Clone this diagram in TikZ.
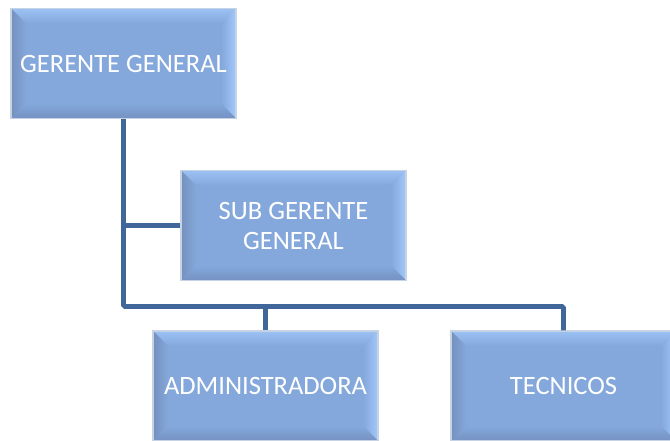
\documentclass[tikz,border=0pt]{standalone}
\usepackage{fontspec}
\setmainfont{Carlito}
\usetikzlibrary{calc}

\definecolor{boxface}{HTML}{84A8DB}
\definecolor{boxtop}{HTML}{9CC1F3}
\definecolor{boxleft}{HTML}{7590BD}
\definecolor{boxright}{HTML}{A2C7FA}
\definecolor{boxbottom}{HTML}{7591C2}
\definecolor{boxrim}{HTML}{C6D3E4}
\definecolor{linkblue}{HTML}{41679A}

\tikzset{
	orgbox/.style={
		rectangle, minimum width=225pt, minimum height=110pt, inner sep=0pt,
		fill=boxface, draw=boxrim, line width=1.2pt,
		text=white, align=center, font=\fontsize{26.5}{30}\selectfont,
		path picture={
			\coordinate (nw) at (path picture bounding box.north west);
			\coordinate (ne) at (path picture bounding box.north east);
			\coordinate (sw) at (path picture bounding box.south west);
			\coordinate (se) at (path picture bounding box.south east);
			\shade[top color=boxtop, bottom color=boxface]
				(nw) -- (ne) -- ($(ne)+(-15pt,-15pt)$) -- ($(nw)+(15pt,-15pt)$) -- cycle;
			\shade[left color=boxleft, right color=boxface]
				(nw) -- (sw) -- ($(sw)+(15pt,15pt)$) -- ($(nw)+(15pt,-15pt)$) -- cycle;
			\shade[left color=boxface, right color=boxright]
				(ne) -- (se) -- ($(se)+(-15pt,15pt)$) -- ($(ne)+(-15pt,-15pt)$) -- cycle;
			\shade[top color=boxface, bottom color=boxbottom]
				(sw) -- (se) -- ($(se)+(-15pt,15pt)$) -- ($(sw)+(15pt,15pt)$) -- cycle;
		}
	},
	link/.style={draw=linkblue, line width=4.8pt, rounded corners=1.5pt},
}

\begin{document}
\begin{tikzpicture}[x=1pt,y=1pt]
	\useasboundingbox (0,0) rectangle (670,441);

	% boxes
	\node[orgbox] (gg)  at (123.5,377.5) {GERENTE GENERAL};
	\node[orgbox] (sub) at (293.5,215.5) {SUB GERENTE\\GENERAL};
	\node[orgbox] (adm) at (265.5,55)    {ADMINISTRADORA};
	\node[orgbox] (tec) at (563.5,55)    {TECNICOS};

	% bus line level
	\coordinate (bus) at (0,134.5);

	% links
	\path[link] (gg.south) |- (bus -| tec.north) -- (tec.north);
	\path[link] (gg.south |- sub.west) -- (sub.west);
	\path[link] (adm.north |- bus) -- (adm.north);
\end{tikzpicture}
\end{document}
